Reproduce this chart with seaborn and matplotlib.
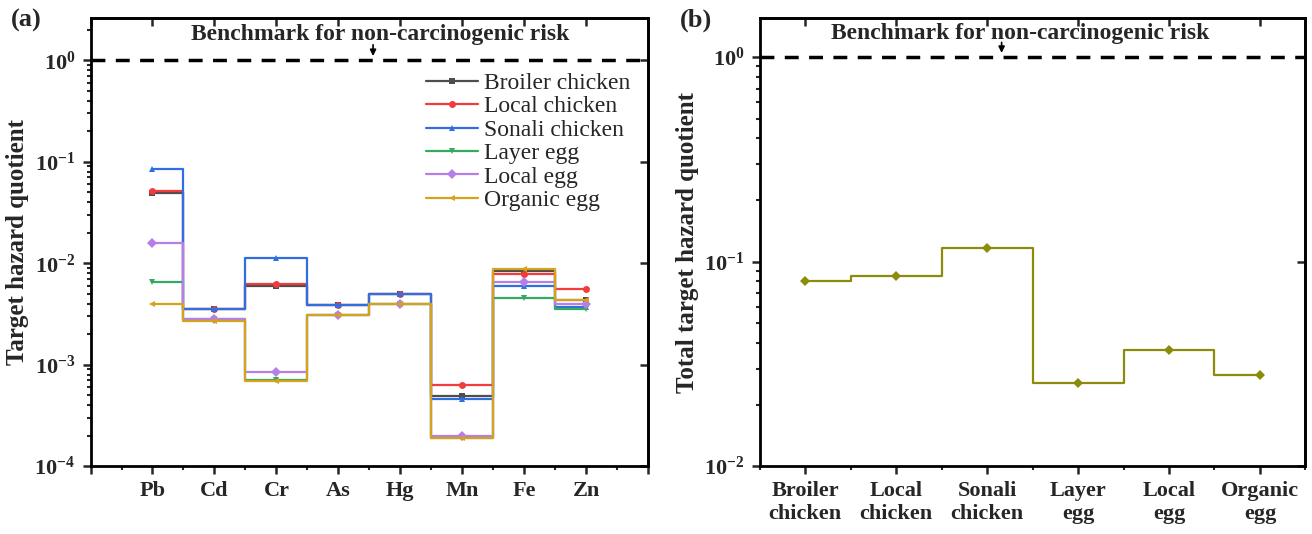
import math
import pandas as pd
import matplotlib
matplotlib.use("Agg")
import matplotlib.pyplot as plt
import matplotlib.ticker as mticker
import seaborn as sns

# Data
metals = ["Pb", "Cd", "Cr", "As", "Hg", "Mn", "Fe", "Zn"]
broiler_chicken = [0.049, 0.0035, 0.0060, 0.0039, 0.0050, 0.00049, 0.0083, 0.0043]
local_chicken = [0.052, 0.0035, 0.0062, 0.0039, 0.0050, 0.00063, 0.0078, 0.0056]
sonali_chicken = [0.084, 0.0035, 0.0112, 0.0039, 0.0050, 0.00046, 0.0059, 0.0037]
layer_egg = [0.0066, 0.0028, 0.00070, 0.0031, 0.0040, 0.00019, 0.0045, 0.0035]
local_egg = [0.0158, 0.0028, 0.00085, 0.0031, 0.0040, 0.00020, 0.0065, 0.0040]
organic_egg = [0.0040, 0.0027, 0.00069, 0.0031, 0.0040, 0.00019, 0.0088, 0.0043]

food_names = ["Broiler chicken", "Local chicken", "Sonali chicken",
              "Layer egg", "Local egg", "Organic egg"]
food_labels = ["Broiler\nchicken", "Local\nchicken", "Sonali\nchicken",
               "Layer\negg", "Local\negg", "Organic\negg"]
total_thq = [0.080, 0.085, 0.117, 0.0255, 0.037, 0.028]

colors = {"Broiler chicken": "#4d4d4d", "Local chicken": "#f23b3b",
          "Sonali chicken": "#2f6fe0", "Layer egg": "#36a862",
          "Local egg": "#b57ee8", "Organic egg": "#d4a31c"}
markers = {"Broiler chicken": "s", "Local chicken": "o", "Sonali chicken": "^",
           "Layer egg": "v", "Local egg": "D", "Organic egg": "<"}

sns.set_theme(style="ticks")
plt.rcParams["font.family"] = ["Liberation Serif", "DejaVu Serif"]
plt.rcParams["mathtext.fontset"] = "custom"
plt.rcParams["mathtext.rm"] = "Liberation Serif"
plt.rcParams["mathtext.bf"] = "Liberation Serif:bold"

# long table for panel (a)
series = [broiler_chicken, local_chicken, sonali_chicken, layer_egg, local_egg, organic_egg]
rows = []
for name, vals in zip(food_names, series):
    for i, v in enumerate(vals):
        rows.append({"pos": i, "thq": v, "food": name})
df_a = pd.DataFrame(rows)
df_b = pd.DataFrame({"pos": range(len(total_thq)), "thq": total_thq})

fig = plt.figure(figsize=(13.12, 5.34), dpi=100)
ax1 = fig.add_axes([0.069, 0.127, 0.425, 0.839])
ax2 = fig.add_axes([0.579, 0.127, 0.416, 0.839])

sns.lineplot(data=df_a, x="pos", y="thq", hue="food", style="food",
             hue_order=food_names, style_order=food_names, palette=colors,
             markers=markers, dashes=False, drawstyle="steps-mid",
             linewidth=1.6, markersize=5, markeredgewidth=0,
             errorbar=None, ax=ax1)

sns.lineplot(data=df_b, x="pos", y="thq", color="#8c8c0a", marker="D",
             drawstyle="steps-mid", linewidth=1.6, markersize=5,
             markeredgewidth=0, errorbar=None, ax=ax2)

bold = {"fontweight": "bold"}


def style_axis(ax, ylim, yticks, xlim, xmajor, xlabels):
    ax.set_yscale("log")
    ax.set_ylim(*ylim)
    ax.set_xlim(*xlim)
    ax.set_yticks(yticks)
    ax.set_yticklabels([r"$\mathbf{10^{%d}}$" % round(math.log10(t)) for t in yticks],
                       fontsize=16)
    ax.yaxis.set_minor_locator(mticker.LogLocator(base=10, subs=range(2, 10)))
    ax.yaxis.set_minor_formatter(mticker.NullFormatter())
    ax.set_xticks(xmajor)
    ax.set_xticklabels(xlabels, fontsize=16, **bold)
    ax.xaxis.set_minor_locator(mticker.MultipleLocator(0.5))
    ax.tick_params(which="major", direction="out", length=6, width=1.8, pad=5)
    ax.tick_params(which="minor", direction="out", length=3, width=1.5)
    for s in ax.spines.values():
        s.set_linewidth(2)
        s.set_color("black")
    top = ax.secondary_xaxis("top")
    top.set_xticks(xmajor)
    top.tick_params(direction="in", length=6, width=1.8, labeltop=False)
    top.spines["top"].set_linewidth(2)
    right = ax.secondary_yaxis("right")
    right.set_yticks(yticks)
    right.yaxis.set_minor_locator(mticker.NullLocator())
    right.tick_params(direction="in", length=6, width=1.8, labelright=False)
    right.spines["right"].set_linewidth(2)
    ax.axhline(1.0, color="black", linestyle=(0, (4, 3)), linewidth=2.5)
    ax.set_xlabel("")


style_axis(ax1, (1e-4, 2.6), [1e-4, 1e-3, 1e-2, 1e-1, 1],
           (-1, 8), list(range(-1, 9)), [""] + metals + [""])
style_axis(ax2, (1e-2, 1.55), [1e-2, 1e-1, 1],
           (-0.5, 5.5), list(range(6)), food_labels)

ax1.set_ylabel("Target hazard quotient", fontsize=18, labelpad=4, **bold)
ax2.set_ylabel("Total target hazard quotient", fontsize=18, labelpad=4, **bold)

# benchmark annotations
ax1.text(3.67, 1.78, "Benchmark for non-carcinogenic risk", ha="center",
         va="center", fontsize=17, **bold)
ax1.annotate("", xy=(3.56, 1.0), xytext=(3.56, 1.42),
             arrowprops=dict(arrowstyle="-|>", color="black", lw=1.2,
                             mutation_scale=9, shrinkA=0, shrinkB=3))
ax2.text(2.36, 1.30, "Benchmark for non-carcinogenic risk", ha="center",
         va="center", fontsize=17, **bold)
ax2.annotate("", xy=(2.16, 1.0), xytext=(2.16, 1.18),
             arrowprops=dict(arrowstyle="-|>", color="black", lw=1.2,
                             mutation_scale=9, shrinkA=0, shrinkB=3))

sns.move_legend(ax1, "upper right", bbox_to_anchor=(0.985, 0.9), title=None,
                frameon=False, fontsize=17, handlelength=2.2,
                handletextpad=0.25, labelspacing=0.08, borderaxespad=0)

fig.text(0.008, 0.962, "(a)", fontsize=19, ha="left", va="center", **bold)
fig.text(0.518, 0.962, "(b)", fontsize=19, ha="left", va="center", **bold)

fig.savefig("out.png", dpi=100)
